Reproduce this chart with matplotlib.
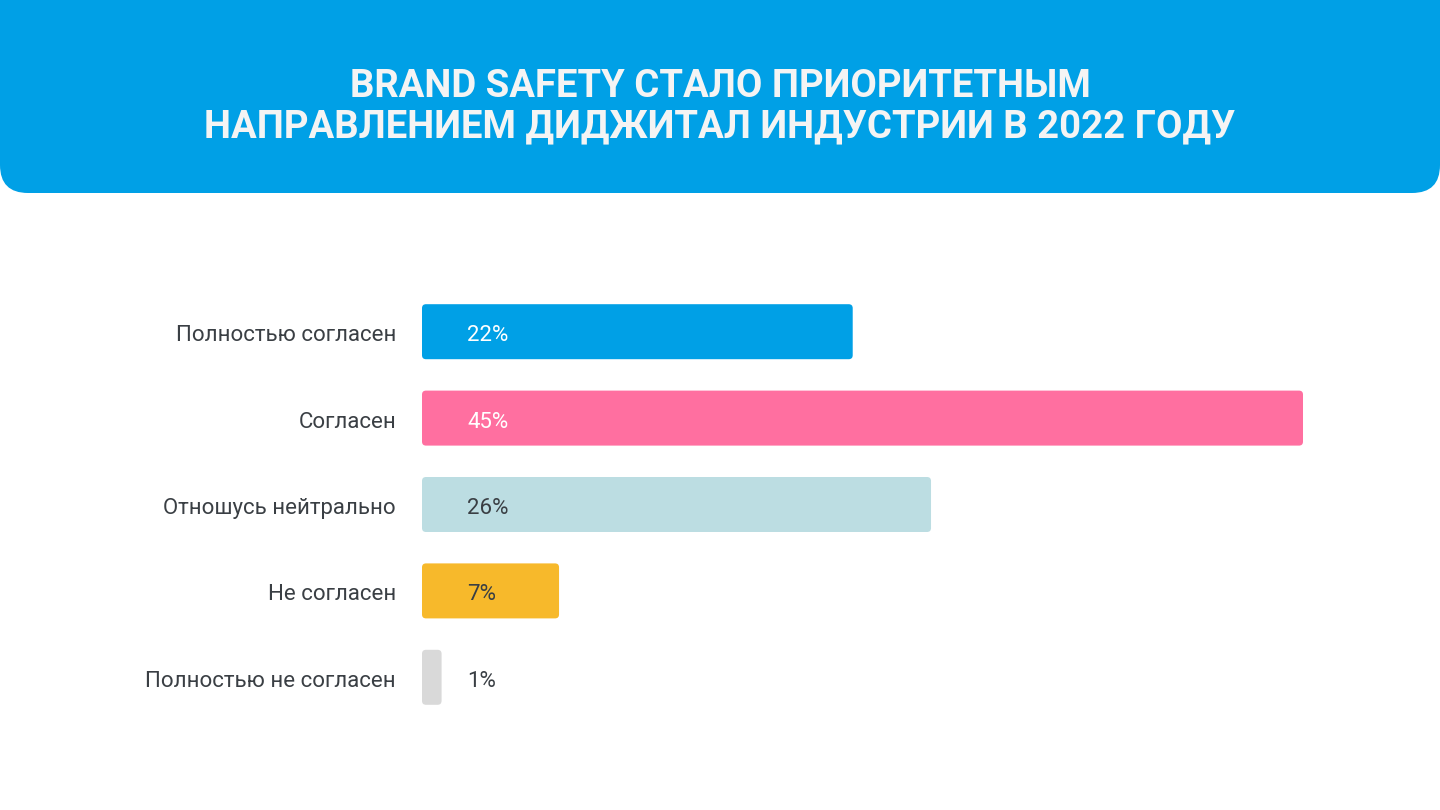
import matplotlib
matplotlib.use("Agg")
import matplotlib.pyplot as plt
from matplotlib.patches import FancyBboxPatch

categories = ["Полностью согласен", "Согласен", "Отношусь нейтрально", "Не согласен", "Полностью не согласен"]
values = [22, 45, 26, 7, 1]
value_labels = ["22%", "45%", "26%", "7%", "1%"]
bar_colors = ["#00a0e6", "#ff6fa0", "#bcdde2", "#f7b92b", "#d9d9d9"]
text_colors = ["#ffffff", "#ffffff", "#3a3f44", "#3a3f44", "#3a3f44"]
title_lines = ["BRAND SAFETY СТАЛО ПРИОРИТЕТНЫМ", "НАПРАВЛЕНИЕМ ДИДЖИТАЛ ИНДУСТРИИ В 2022 ГОДУ"]

W, H = 1440, 810
fig = plt.figure(figsize=(W / 100, H / 100), dpi=100)
fig.patch.set_facecolor("white")

# header
r = 28
hdr = FancyBboxPatch((0, (H - 193) / H), 1.0, 0.5,
                     boxstyle=f"round,pad=0,rounding_size={r / W}",
                     mutation_aspect=W / H,
                     transform=fig.transFigure, facecolor="#00a0e6",
                     edgecolor="none", zorder=0)
fig.patches.append(hdr)
fig.text(0.5, 1 - 97 / H, title_lines[0], ha="center", va="baseline",
         fontsize=27.5, fontweight="bold", family="Roboto", color="#f4f4f4")
fig.text(0.5, 1 - 137 / H, title_lines[1], ha="center", va="baseline",
         fontsize=27.5, fontweight="bold", family="Roboto", color="#f4f4f4")

# bars axes
x0, x1 = 422, 1303
xmax = max(values)
row_px = 86.4
n = len(categories)
yc = 504.5
ax = fig.add_axes([x0 / W, (H - (yc + n * row_px / 2)) / H, (x1 - x0) / W, n * row_px / H])
ax.set_xlim(0, xmax)
ax.set_ylim(n - 0.5, -0.5)
ax.axis("off")

bh = 55 / row_px
px_per_x = (x1 - x0) / xmax
rad_px = 4
rs = rad_px / px_per_x
asp = (rad_px / row_px) / rs
base_off = 9.5 / row_px
for i, (v, c) in enumerate(zip(values, bar_colors)):
    p = FancyBboxPatch((0, i - bh / 2), v, bh,
                       boxstyle=f"round,pad=0,rounding_size={rs}",
                       mutation_aspect=asp, facecolor=c, edgecolor="none")
    ax.add_patch(p)
    ax.text(45 / px_per_x, i + base_off, value_labels[i], ha="left", va="baseline",
            fontsize=16, family="Roboto", color=text_colors[i])
    ax.text(-26 / px_per_x, i + base_off, categories[i], ha="right", va="baseline",
            fontsize=16, family="Roboto", color="#3a3f44")

fig.savefig("out.png", dpi=100, facecolor="white")
